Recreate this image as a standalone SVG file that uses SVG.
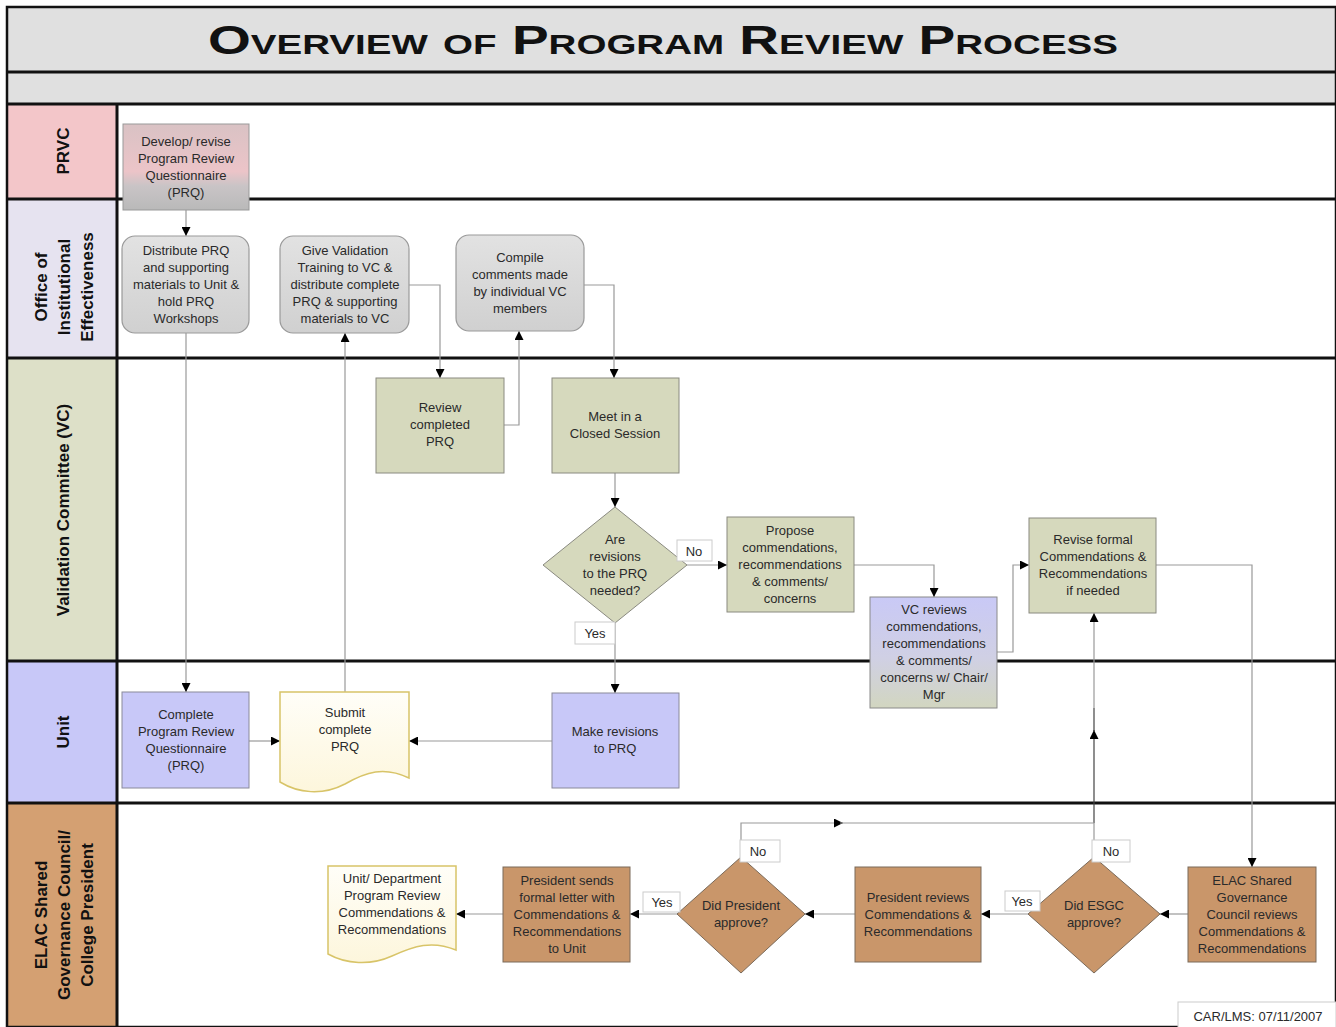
<svg xmlns="http://www.w3.org/2000/svg" width="1336" height="1027" viewBox="0 0 1336 1027">
<defs>
<linearGradient id="gPink" x1="0" y1="0" x2="0" y2="1"><stop offset="0" stop-color="#d9c2c4"/><stop offset="0.55" stop-color="#ecc4c8"/><stop offset="0.72" stop-color="#c9c4c6"/><stop offset="1" stop-color="#b9b9b9"/></linearGradient>
<linearGradient id="gGray" x1="0" y1="0" x2="0" y2="1"><stop offset="0" stop-color="#e2e2e2"/><stop offset="1" stop-color="#d0d0d0"/></linearGradient>
<linearGradient id="gVcr" x1="0" y1="0" x2="0" y2="1"><stop offset="0" stop-color="#c9c9f6"/><stop offset="0.55" stop-color="#d0d0e4"/><stop offset="1" stop-color="#d2d6c0"/></linearGradient>
<linearGradient id="gDoc" x1="0" y1="0" x2="0" y2="1"><stop offset="0" stop-color="#fffef8"/><stop offset="1" stop-color="#fdf6dc"/></linearGradient>
<marker id="arr" viewBox="0 0 10 10" refX="10" refY="5" markerWidth="9" markerHeight="9" markerUnits="userSpaceOnUse" orient="auto"><path d="M0,0 L10,5 L0,10 Z" fill="#000"/></marker>
</defs>
<style>
.t{font-family:"Liberation Sans",Arial,sans-serif;font-size:13px;fill:#2a2a2a;text-anchor:middle}
.lab{font-family:"Liberation Sans",Arial,sans-serif;font-size:17px;font-weight:bold;fill:#111;text-anchor:middle}
.green{fill:#d6d9bd;stroke:#8a8a80;stroke-width:1}
.blue{fill:#c8c8f8;stroke:#8a8a9a;stroke-width:1}
.tan{fill:#c9966a;stroke:#7a6a5a;stroke-width:1}
.gray{fill:url(#gGray);stroke:#9a9a9a;stroke-width:1.2}
.doc{fill:url(#gDoc);stroke:#d8c468;stroke-width:1.5}
.tag{fill:#fff;stroke:#cccccc;stroke-width:1}
.c{fill:none;stroke:#999;stroke-width:1.2}
.ca{fill:none;stroke:#999;stroke-width:1.2;marker-end:url(#arr)}
.lane{stroke:#111;stroke-width:3;fill:none}
</style>
<rect x="0" y="0" width="1336" height="1027" fill="#fff"/>
<!-- header -->
<g id="header">
<rect x="7" y="7" width="1329" height="65" fill="#e0e0e0"/>
<rect x="7" y="72" width="1329" height="32" fill="#e0e0e0"/>
<text x="663" y="54" font-family="'Liberation Sans',Arial,sans-serif" font-weight="bold" font-size="40" font-variant="small-caps" text-anchor="middle" textLength="910" lengthAdjust="spacingAndGlyphs" fill="#111">Overview of Program Review Process</text>
</g>
<!-- lane labels -->
<g id="lanes">
<rect x="7" y="104" width="110" height="95" fill="#f3c6c9"/>
<rect x="7" y="199" width="110" height="159" fill="#e6e3f0"/>
<rect x="7" y="358" width="110" height="303" fill="#dde0c8"/>
<rect x="7" y="661" width="110" height="142" fill="#c8c8f8"/>
<rect x="7" y="803" width="110" height="224" fill="#d4a072"/>
<text class="lab" transform="translate(69,151) rotate(-90)">PRVC</text>
<text class="lab" transform="translate(47,287) rotate(-90)">Office of</text>
<text class="lab" transform="translate(70,287) rotate(-90)">Institutional</text>
<text class="lab" transform="translate(93,287) rotate(-90)">Effectiveness</text>
<text class="lab" transform="translate(69,510) rotate(-90)">Validation Committee (VC)</text>
<text class="lab" transform="translate(69,732) rotate(-90)">Unit</text>
<text class="lab" transform="translate(47,915) rotate(-90)">ELAC Shared</text>
<text class="lab" transform="translate(70,915) rotate(-90)">Governance Council/</text>
<text class="lab" transform="translate(93,915) rotate(-90)">College President</text>
<path class="lane" d="M7,72 H1336 M7,104 H1336 M7,199 H1336 M7,358 H1336 M7,661 H1336 M7,803 H1336 M117,104 V1027"/>
<rect x="7" y="7" width="1329" height="1020" fill="none" stroke="#111" stroke-width="2.5"/>
</g>
<!-- connectors -->
<g id="connectors">
<path class="ca" d="M186,210 V236"/>
<path class="ca" d="M186,333 V692"/>
<path class="ca" d="M249,741 H280"/>
<path class="ca" d="M345,692 V333"/>
<path class="ca" d="M409,285 H440 V378"/>
<path class="ca" d="M504,425 H519 V331"/>
<path class="ca" d="M584,285 H614 V378"/>
<path class="ca" d="M615,473 V507"/>
<path class="ca" d="M615,623 V693"/>
<path class="ca" d="M687,565 H727"/>
<path class="ca" d="M854,565 H934 V597"/>
<path class="ca" d="M997,652 H1013 V565 H1029"/>
<path class="ca" d="M1156,565 H1252 V867"/>
<path class="ca" d="M552,741 H409"/>
<path class="ca" d="M1188,914 H1160"/>
<path class="ca" d="M1028,914 H981"/>
<path class="ca" d="M855,914 H805"/>
<path class="ca" d="M677,914 H630"/>
<path class="ca" d="M503,914 H456"/>
<path class="c" d="M1094,857 V823"/>
<path d="M1094,823 V730" fill="none" stroke="#444" stroke-width="1.2" marker-end="url(#arr)"/>
<path d="M1094,732 V708" fill="none" stroke="#444" stroke-width="1.2"/>
<path class="ca" d="M1094,708 V613"/>
<path class="ca" d="M741,857 V823 H843"/>
<path class="c" d="M840,823 H1094"/>
</g>
<!-- nodes -->
<g id="n-develop">
<rect x="123" y="124" width="126" height="86" fill="url(#gPink)" stroke="#999" stroke-width="1"/>
<text class="t"><tspan x="186" y="146">Develop/ revise</tspan><tspan x="186" y="163">Program Review</tspan><tspan x="186" y="180">Questionnaire</tspan><tspan x="186" y="197">(PRQ)</tspan></text>
</g>
<g id="n-distribute">
<rect class="gray" x="122" y="236" width="127" height="97" rx="13"/>
<text class="t"><tspan x="186" y="255">Distribute PRQ</tspan><tspan x="186" y="272">and supporting</tspan><tspan x="186" y="289">materials to Unit &amp;</tspan><tspan x="186" y="306">hold PRQ</tspan><tspan x="186" y="323">Workshops</tspan></text>
</g>
<g id="n-give">
<rect class="gray" x="280" y="236" width="129" height="97" rx="13"/>
<text class="t"><tspan x="345" y="255">Give Validation</tspan><tspan x="345" y="272">Training to VC &amp;</tspan><tspan x="345" y="289">distribute complete</tspan><tspan x="345" y="306">PRQ &amp; supporting</tspan><tspan x="345" y="323">materials to VC</tspan></text>
</g>
<g id="n-compile">
<rect class="gray" x="456" y="235" width="128" height="96" rx="13"/>
<text class="t"><tspan x="520" y="262">Compile</tspan><tspan x="520" y="279">comments made</tspan><tspan x="520" y="296">by individual VC</tspan><tspan x="520" y="313">members</tspan></text>
</g>
<g id="n-review">
<rect class="green" x="376" y="378" width="128" height="95"/>
<text class="t"><tspan x="440" y="412">Review</tspan><tspan x="440" y="429">completed</tspan><tspan x="440" y="446">PRQ</tspan></text>
</g>
<g id="n-meet">
<rect class="green" x="552" y="378" width="127" height="95"/>
<text class="t"><tspan x="615" y="421">Meet in a</tspan><tspan x="615" y="438">Closed Session</tspan></text>
</g>
<g id="n-revisions">
<path class="green" d="M615,507 L687,565 L615,623 L543,565 Z"/>
<text class="t"><tspan x="615" y="544">Are</tspan><tspan x="615" y="561">revisions</tspan><tspan x="615" y="578">to the PRQ</tspan><tspan x="615" y="595">needed?</tspan></text>
</g>
<g id="n-propose">
<rect class="green" x="727" y="517" width="127" height="95"/>
<text class="t"><tspan x="790" y="535">Propose</tspan><tspan x="790" y="552">commendations,</tspan><tspan x="790" y="569">recommendations</tspan><tspan x="790" y="586">&amp; comments/</tspan><tspan x="790" y="603">concerns</tspan></text>
</g>
<g id="n-vcreviews">
<rect x="870" y="597" width="127" height="111" fill="url(#gVcr)" stroke="#8a8a8a" stroke-width="1"/>
<text class="t"><tspan x="934" y="614">VC reviews</tspan><tspan x="934" y="631">commendations,</tspan><tspan x="934" y="648">recommendations</tspan><tspan x="934" y="665">&amp; comments/</tspan><tspan x="934" y="682">concerns w/ Chair/</tspan><tspan x="934" y="699">Mgr</tspan></text>
</g>
<g id="n-revise">
<rect class="green" x="1029" y="518" width="127" height="95"/>
<text class="t"><tspan x="1093" y="544">Revise formal</tspan><tspan x="1093" y="561">Commendations &amp;</tspan><tspan x="1093" y="578">Recommendations</tspan><tspan x="1093" y="595">if needed</tspan></text>
</g>
<g id="n-complete">
<rect class="blue" x="122" y="692" width="127" height="96"/>
<text class="t"><tspan x="186" y="719">Complete</tspan><tspan x="186" y="736">Program Review</tspan><tspan x="186" y="753">Questionnaire</tspan><tspan x="186" y="770">(PRQ)</tspan></text>
</g>
<g id="n-submit">
<path class="doc" d="M280,692 H409 V778 C384,766 366,772 345,784 C322,796 298,793 280,782 Z"/>
<text class="t"><tspan x="345" y="717">Submit</tspan><tspan x="345" y="734">complete</tspan><tspan x="345" y="751">PRQ</tspan></text>
</g>
<g id="n-make">
<rect class="blue" x="552" y="693" width="127" height="95"/>
<text class="t"><tspan x="615" y="736">Make revisions</tspan><tspan x="615" y="753">to PRQ</tspan></text>
</g>
<g id="n-unitdoc">
<path class="doc" d="M328,866 H456 V950 C432,940 414,946 392,956 C370,966 346,964 328,954 Z"/>
<text class="t"><tspan x="392" y="883">Unit/ Department</tspan><tspan x="392" y="900">Program Review</tspan><tspan x="392" y="917">Commendations &amp;</tspan><tspan x="392" y="934">Recommendations</tspan></text>
</g>
<g id="n-sends">
<rect class="tan" x="503" y="867" width="127" height="95"/>
<text class="t"><tspan x="567" y="885">President sends</tspan><tspan x="567" y="902">formal letter with</tspan><tspan x="567" y="919">Commendations &amp;</tspan><tspan x="567" y="936">Recommendations</tspan><tspan x="567" y="953">to Unit</tspan></text>
</g>
<g id="n-presapprove">
<path class="tan" d="M741,857 L805,914 L741,973 L677,914 Z"/>
<text class="t"><tspan x="741" y="910">Did President</tspan><tspan x="741" y="927">approve?</tspan></text>
</g>
<g id="n-presreviews">
<rect class="tan" x="855" y="867" width="126" height="95"/>
<text class="t"><tspan x="918" y="902">President reviews</tspan><tspan x="918" y="919">Commendations &amp;</tspan><tspan x="918" y="936">Recommendations</tspan></text>
</g>
<g id="n-esgcapprove">
<path class="tan" d="M1094,857 L1160,914 L1094,973 L1028,914 Z"/>
<text class="t"><tspan x="1094" y="910">Did ESGC</tspan><tspan x="1094" y="927">approve?</tspan></text>
</g>
<g id="n-elac">
<rect class="tan" x="1188" y="867" width="128" height="95"/>
<text class="t"><tspan x="1252" y="885">ELAC Shared</tspan><tspan x="1252" y="902">Governance</tspan><tspan x="1252" y="919">Council reviews</tspan><tspan x="1252" y="936">Commendations &amp;</tspan><tspan x="1252" y="953">Recommendations</tspan></text>
</g>
<!-- edge labels -->
<g id="labels">
<rect class="tag" x="677" y="540" width="35" height="21"/><text class="t" x="694" y="556">No</text>
<rect class="tag" x="575" y="622" width="40" height="22"/><text class="t" x="595" y="638">Yes</text>
<rect class="tag" x="643" y="892" width="37" height="20"/><text class="t" x="662" y="907">Yes</text>
<rect class="tag" x="740" y="840" width="40" height="22"/><text class="t" x="758" y="856">No</text>
<rect class="tag" x="1005" y="891" width="35" height="20"/><text class="t" x="1022" y="906">Yes</text>
<rect class="tag" x="1092" y="840" width="38" height="22"/><text class="t" x="1111" y="856">No</text>
<rect x="1178" y="1002" width="158" height="28" fill="#fff" stroke="#ccc"/>
<text class="t" x="1258" y="1021">CAR/LMS: 07/11/2007</text>
</g>
</svg>
